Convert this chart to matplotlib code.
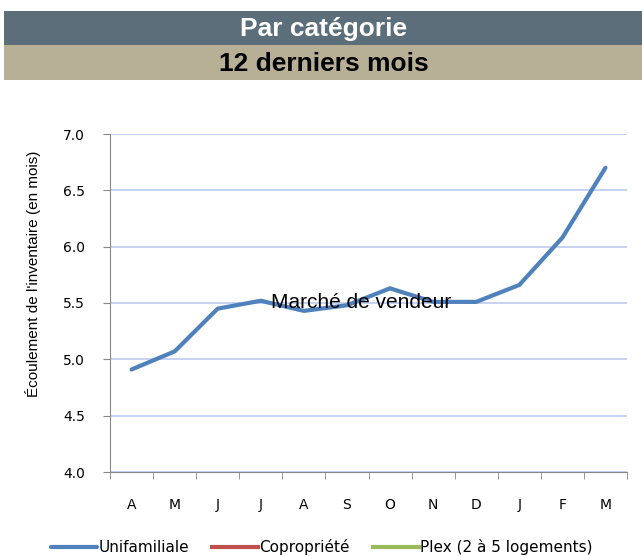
import numpy as np
import matplotlib.pyplot as plt
from matplotlib.patches import Rectangle

plt.rcParams['font.family'] = ['Liberation Sans', 'DejaVu Sans']

mois = ['A', 'M', 'J', 'J', 'A', 'S', 'O', 'N', 'D', 'J', 'F', 'M']
unifamiliale = [4.91, 5.07, 5.45, 5.52, 5.43, 5.48, 5.63, 5.51, 5.51, 5.66, 6.08, 6.70]
copropriete = []
plex = []

fig = plt.figure(figsize=(6.42, 5.56), dpi=100)

### Header bars
fig.patches.append(Rectangle((4/642, 1-45/556), 1, 34/556, transform=fig.transFigure,
                             facecolor='#5B6E7A', edgecolor='none'))
fig.patches.append(Rectangle((4/642, 1-80/556), 1, 35/556, transform=fig.transFigure,
                             facecolor='#B8AF97', edgecolor='none'))
fig.text(324/642, 1-29/556, 'Par catégorie', color='white', fontsize=19,
         fontweight='bold', ha='center', va='center')
fig.text(324/642, 1-64/556, '12 derniers mois', color='black', fontsize=19,
         fontweight='bold', ha='center', va='center')

### Chart
ax = fig.add_axes([110/642, 1-472/556, 517/642, 338/556])
x = np.arange(len(mois))
ax.plot(x, unifamiliale, color='#4F81BD', lw=3, label='Unifamiliale', solid_capstyle='round')
ax.plot(x[:len(copropriete)], copropriete, color='#C0504D', lw=3, label='Copropriété')
ax.plot(x[:len(plex)], plex, color='#9BBB59', lw=3, label='Plex (2 à 5 logements)')

yt = np.arange(4.0, 7.01, 0.5)
ax.set_xlim(-0.5, len(mois) - 0.5)
ax.set_ylim(4.0, 7.0)
ax.set_yticks(yt)
ax.set_yticklabels([f'{v:.1f}' for v in yt], fontsize=10, family='DejaVu Sans')
ax.set_xticks(x)
ax.set_xticklabels(mois, fontsize=10, family='DejaVu Sans')
ax.set_xticks(np.arange(-0.5, len(mois), 1), minor=True)
ax.tick_params(axis='x', which='major', length=0, pad=19)
ax.tick_params(axis='x', which='minor', length=5, color='#888888')
ax.tick_params(axis='y', length=5, color='#888888', pad=13)
ax.grid(axis='y', color='#BCCBEE', lw=1.2)
ax.set_axisbelow(True)
for s in ['top', 'right']:
    ax.spines[s].set_visible(False)
for s in ['left', 'bottom']:
    ax.spines[s].set_color('#888888')

ax.set_ylabel("Écoulement de l'inventaire (en mois)", fontsize=11)
ax.yaxis.set_label_coords(-(110 - 41) / 517, (472 - 274) / 338)
ax.text(5.32, 5.50, 'Marché de vendeur', fontsize=15, ha='center', va='center')

fig.legend(loc='center', bbox_to_anchor=(322/642, 1-547/556), ncol=3, frameon=False,
           prop={'family': 'DejaVu Sans', 'size': 11}, handlelength=3.0,
           handletextpad=0.1, columnspacing=1.5)

plt.savefig('out.png', dpi=100)
